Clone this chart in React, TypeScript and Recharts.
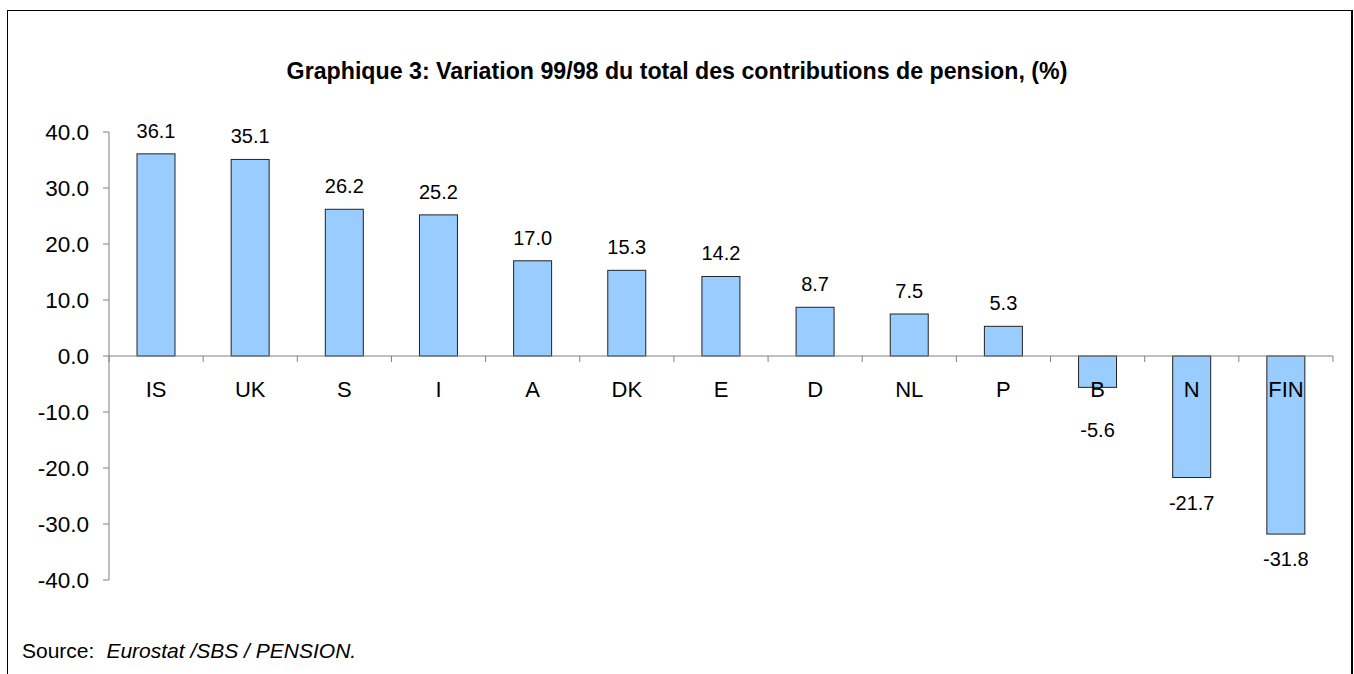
import React from 'react';
import { BarChart, Bar, XAxis, YAxis, ReferenceLine } from 'recharts';

const countries = ['IS', 'UK', 'S', 'I', 'A', 'DK', 'E', 'D', 'NL', 'P', 'B', 'N', 'FIN'];
const variation = [36.1, 35.1, 26.2, 25.2, 17.0, 15.3, 14.2, 8.7, 7.5, 5.3, -5.6, -21.7, -31.8];
const yTicks = [-40, -30, -20, -10, 0, 10, 20, 30, 40];
const titleText = 'Graphique 3: Variation 99/98 du total des contributions de pension, (%)';

const data = countries.map((c, i) => ({ country: c, value: variation[i] }));

const FONT = '"Liberation Sans", Arial, sans-serif';
const CAT_OFFSET = 41;

const BarShape = (props: any) => {
  const { x, y, width, height, payload } = props;
  const top = Math.min(y, y + height);
  const bottom = Math.max(y, y + height);
  const v = payload.value;
  const cx = x + width / 2;
  let ly: number;
  if (v >= 0) {
    ly = top - 16;
  } else {
    // keep the value label clear of the category label under the zero line
    ly = Math.max(bottom + 32, top + CAT_OFFSET + 40);
  }
  return (
    <g>
      <rect x={x} y={top} width={width} height={bottom - top} fill="#99CCFF" stroke="#222222" strokeWidth={1} />
      <text x={cx} y={ly} textAnchor="middle" fontSize={20} fontFamily={FONT} fill="#000">
        {v.toFixed(1)}
      </text>
    </g>
  );
};

const CategoryAxis = (props: any) => {
  const vb = props.viewBox || {};
  const x0 = vb.x;
  const w = vb.width;
  const y0 = vb.y;
  const n = countries.length;
  const step = w / n;
  const items: any[] = [];
  for (let i = 0; i <= n; i++) {
    items.push(
      <line key={'t' + i} x1={x0 + i * step} x2={x0 + i * step} y1={y0} y2={y0 + 6} stroke="#808080" strokeWidth={1} />
    );
  }
  countries.forEach((c, i) => {
    items.push(
      <text key={'c' + i} x={x0 + (i + 0.5) * step} y={y0 + CAT_OFFSET} textAnchor="middle" fontSize={22} fontFamily={FONT} fill="#000">
        {c}
      </text>
    );
  });
  return <g>{items}</g>;
};

export default function App() {
  return (
    <div style={{ position: 'absolute', left: 0, top: 0, width: 1354, height: 674, overflow: 'hidden', background: '#fff', fontFamily: FONT }}>
      <div
        style={{
          position: 'absolute',
          left: 7,
          top: 10,
          width: 1343,
          height: 700,
          borderTop: '1px solid #000',
          borderLeft: '1px solid #000',
          borderRight: '2px solid #000',
        }}
      />
      <div style={{ position: 'absolute', left: 0, top: 0 }}>
        <BarChart
          width={1354}
          height={674}
          data={data}
          margin={{ top: 132, right: 21, bottom: 94, left: 29 }}
          barSize={38}
        >
          <XAxis dataKey="country" hide />
          <YAxis
            width={80}
            domain={[-40, 40]}
            ticks={yTicks}
            interval={0}
            tickFormatter={(v: number) => v.toFixed(1)}
            axisLine={{ stroke: '#808080', strokeWidth: 1 }}
            tickLine={{ stroke: '#808080', strokeWidth: 1 }}
            tickSize={6}
            tickMargin={14}
            tick={{ fill: '#000', fontSize: 22.5, fontFamily: FONT }}
          />
          <Bar dataKey="value" isAnimationActive={false} shape={<BarShape />} />
          <ReferenceLine y={0} stroke="#808080" strokeWidth={1} label={{ content: (p: any) => <CategoryAxis {...p} /> }} />
        </BarChart>
      </div>
      <div
        style={{
          position: 'absolute',
          left: 0,
          top: 56,
          width: 1354,
          textAlign: 'center',
          fontWeight: 'bold',
          fontSize: 23.2,
          lineHeight: '30px',
          color: '#000',
        }}
      >
        {titleText}
      </div>
      <div style={{ position: 'absolute', left: 22, top: 638, fontSize: 21, lineHeight: '26px', color: '#000', whiteSpace: 'pre' }}>
        Source:<span style={{ fontStyle: 'italic', marginLeft: 12 }}>Eurostat /SBS / PENSION.</span>
      </div>
    </div>
  );
}
